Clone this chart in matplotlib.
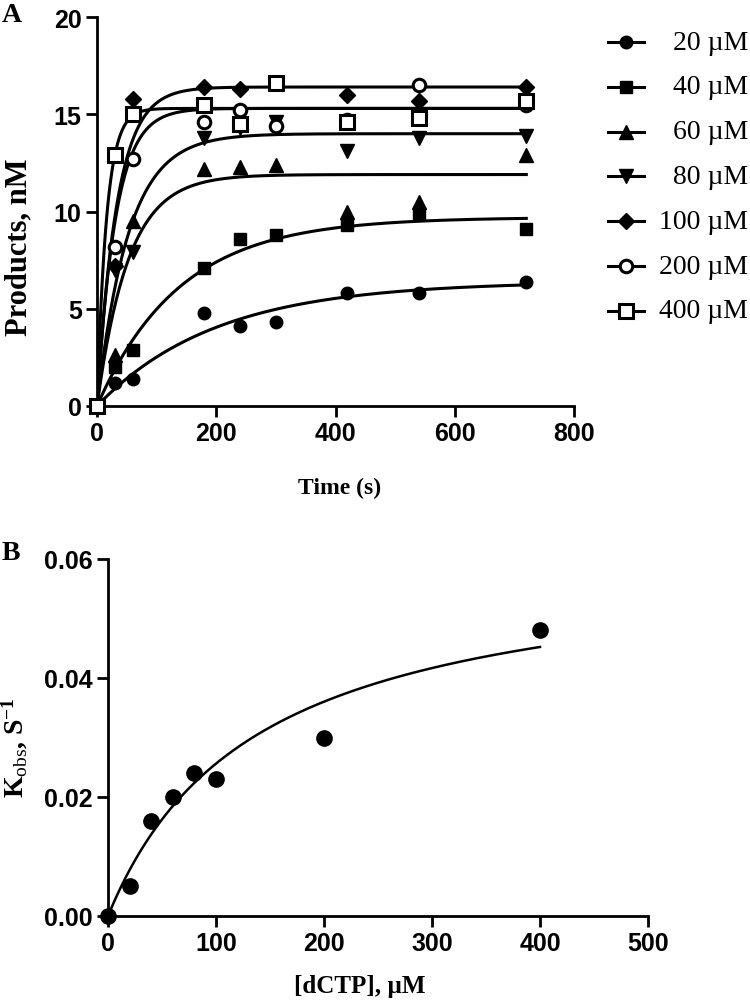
import numpy as np
import matplotlib
matplotlib.use("Agg")
import matplotlib.pyplot as plt
from matplotlib.lines import Line2D

# ---------------- data ----------------
time_s = [0, 30, 60, 180, 240, 300, 420, 540, 720]
conc_labels = ["20 µM", "40 µM", "60 µM", "80 µM", "100 µM", "200 µM", "400 µM"]

prod_20 = [0, 1.2, 1.4, 4.8, 4.1, 4.3, 5.8, 5.8, 6.4]
prod_40 = [0, 2.0, 2.9, 7.1, 8.6, 8.8, 9.3, 9.9, 9.1]
prod_60 = [0, 2.6, 9.5, 12.2, 12.3, 12.4, 10.0, 10.5, 12.9]
prod_80 = [0, 7.0, 7.9, 13.8, 14.3, 14.6, 13.1, 13.8, 13.9]
prod_100 = [0, 7.2, 15.8, 16.4, 16.3, 16.6, 16.0, 15.7, 16.4]
prod_200 = [0, 8.2, 12.7, 14.6, 15.2, 14.4, 14.7, 16.5, 15.5]
prod_400 = [0, 12.9, 15.0, 15.5, 14.5, 16.6, 14.6, 14.8, 15.7]

# single-exponential fit parameters (plateau nM, rate s^-1)
fit_plateau = [6.4, 9.7, 11.9, 14.0, 16.4, 15.3, 15.3]
fit_rate = [0.005, 0.0072, 0.019, 0.019, 0.030, 0.032, 0.062]

dctp_uM = [0, 20, 40, 60, 80, 100, 200, 400]
kobs = [0.0, 0.005, 0.016, 0.020, 0.024, 0.023, 0.030, 0.048]
fit_kmax = 0.0607
fit_kd = 137.0

series = [prod_20, prod_40, prod_60, prod_80, prod_100, prod_200, prod_400]
markers = ["o", "s", "^", "v", "D", "o", "s"]
filled = [True, True, True, True, True, False, False]
msizes = [9, 9, 9.5, 9.5, 8, 9, 9.5]

# ---------------- style ----------------
serif = "Liberation Serif"
plt.rcParams["mathtext.fontset"] = "custom"
plt.rcParams["mathtext.rm"] = serif
plt.rcParams["mathtext.it"] = serif + ":italic"
plt.rcParams["mathtext.bf"] = serif + ":bold"
tick_font = {"family": "Liberation Sans", "weight": "bold", "size": 18}

fig = plt.figure(figsize=(7.5, 10.04), dpi=100)

def style_axes(ax):
    for s in ["top", "right"]:
        ax.spines[s].set_visible(False)
    for s in ["left", "bottom"]:
        ax.spines[s].set_linewidth(2)
    ax.tick_params(direction="out", length=8, width=2, pad=3)
    for lab in ax.get_xticklabels() + ax.get_yticklabels():
        lab.set_fontfamily(tick_font["family"])
        lab.set_fontweight(tick_font["weight"])
        lab.set_fontsize(tick_font["size"])

# ---------------- panel A ----------------
axA = fig.add_axes([97 / 750, 1 - 407 / 1004, 477 / 750, 389 / 1004])
tt = np.linspace(0, 720, 400)
for ys, m, f, ms, P, k in zip(series, markers, filled, msizes, fit_plateau, fit_rate):
    axA.plot(tt, P * (1 - np.exp(-k * tt)), color="black", lw=2.2, zorder=2)
    axA.plot(time_s, ys, linestyle="none", marker=m, ms=ms,
             markerfacecolor="black" if f else "white",
             markeredgecolor="black", markeredgewidth=2.2 if not f else 1,
             clip_on=False, zorder=3)
axA.set_xlim(0, 800)
axA.set_ylim(0, 20)
axA.set_xticks([0, 200, 400, 600, 800])
axA.set_yticks([0, 5, 10, 15, 20])
style_axes(axA)
axA.set_xlabel("Time (s)", family=serif, weight="bold", fontsize=17)
axA.xaxis.set_label_coords((340 - 97) / 477, (407 - 478) / 389)
axA.set_ylabel("Products, nM", family=serif, weight="bold", fontsize=22)
axA.yaxis.set_label_coords((33 - 97) / 477, (407 - 247) / 389)

# legend drawn in figure coordinates
leg_y0, leg_dy = 1 - 43 / 1004, 44.8 / 1004
for i, (lab, m, f, ms) in enumerate(zip(conc_labels, markers, filled, msizes)):
    y = leg_y0 - i * leg_dy
    fig.add_artist(Line2D([608 / 750, 644 / 750], [y, y], color="black", lw=2.2,
                          transform=fig.transFigure))
    fig.add_artist(Line2D([626 / 750], [y], marker=m, ms=ms, linestyle="none",
                          markerfacecolor="black" if f else "white",
                          markeredgecolor="black",
                          markeredgewidth=2.2 if not f else 1,
                          transform=fig.transFigure))
    fig.text(748 / 750, y, lab, ha="right", va="center", family=serif, fontsize=20)

fig.text(2 / 750, 1 - 15 / 1004, "A", family=serif, weight="bold", fontsize=20,
         va="center", ha="left")

# ---------------- panel B ----------------
axB = fig.add_axes([108 / 750, 1 - 917 / 1004, 540 / 750, 357 / 1004])
ss = np.linspace(0, 400, 400)
axB.plot(ss, fit_kmax * ss / (fit_kd + ss), color="black", lw=1.8, zorder=2)
axB.plot(dctp_uM, kobs, linestyle="none", marker="o", ms=11, color="black",
         clip_on=False, zorder=3)
axB.set_xlim(0, 500)
axB.set_ylim(0, 0.06)
axB.set_xticks([0, 100, 200, 300, 400, 500])
axB.set_yticks([0.0, 0.02, 0.04, 0.06])
axB.set_yticklabels(["0.00", "0.02", "0.04", "0.06"])
style_axes(axB)
axB.set_xlabel("[dCTP], µM", family=serif, weight="bold", fontsize=18)
axB.xaxis.set_label_coords((360 - 108) / 540, (917 - 975) / 357)
axB.set_ylabel(r"$\mathbf{K}_{\mathrm{obs}}\mathbf{,}\ \mathbf{S}^{\mathbf{-1}}$",
               fontsize=20)
axB.yaxis.set_label_coords((30 - 108) / 540, (917 - 748) / 357)

fig.text(2 / 750, 1 - 554 / 1004, "B", family=serif, weight="bold", fontsize=20,
         va="center", ha="left")

fig.savefig("out.png", dpi=100)
